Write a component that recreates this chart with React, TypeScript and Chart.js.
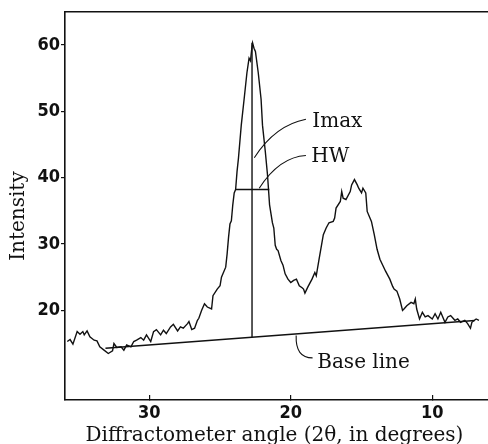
import { useEffect, useRef } from 'react';
import { Chart, registerables } from 'chart.js';

Chart.register(...registerables);

// Diffraction trace: angle (2θ, degrees) and intensity
const angles = [
  35.8, 35.6, 35.4, 35.1, 34.9, 34.7, 34.6, 34.4, 34.2, 33.9, 33.7, 33.5, 33.2, 32.9, 32.6, 32.5, 32.3, 32.0,
  31.8, 31.6, 31.3, 31.1, 30.9, 30.6, 30.4, 30.2, 29.9, 29.7, 29.5, 29.2, 29.0, 28.8, 28.5, 28.3, 28.0, 27.8,
  27.6, 27.3, 27.2, 27.0, 26.8, 26.6, 26.5, 26.3, 26.1, 25.9, 25.6, 25.5, 25.2, 25.0, 24.9, 24.6, 24.5, 24.4,
  24.3, 24.2, 24.1, 24.0, 23.9, 23.8, 23.7, 23.5, 23.3, 23.1, 22.95, 22.85, 22.75, 22.7, 22.6, 22.5, 22.3, 22.1,
  22.0, 21.8, 21.65, 21.6, 21.5, 21.3, 21.2, 21.1, 21.0, 20.9, 20.7, 20.55, 20.4, 20.2, 20.0, 19.8, 19.6, 19.4,
  19.2, 19.1, 19.0, 18.8, 18.5, 18.3, 18.2, 18.0, 17.7, 17.5, 17.3, 17.0, 16.9, 16.8, 16.5, 16.4, 16.3, 16.1,
  15.8, 15.7, 15.5, 15.3, 15.2, 15.0, 14.9, 14.7, 14.6, 14.3, 14.1, 13.9, 13.7, 13.5, 13.3, 13.0, 12.8, 12.7,
  12.5, 12.3, 12.1, 12.0, 11.8, 11.5, 11.3, 11.2, 11.1, 10.9, 10.7, 10.5, 10.3, 10.0, 9.8, 9.6, 9.4, 9.1,
  8.9, 8.7, 8.4, 8.2, 8.0, 7.7, 7.5, 7.3, 7.2, 6.9, 6.7,
];
const intensities = [
  15.3, 15.6, 14.9, 16.8, 16.4, 16.8, 16.3, 16.9, 16.0, 15.5, 15.4, 14.5, 14.0, 13.5, 13.9, 15.0, 14.4, 14.5,
  14.0, 14.8, 14.5, 15.3, 15.5, 15.9, 15.5, 16.3, 15.3, 16.8, 17.1, 16.3, 17.0, 16.5, 17.5, 17.9, 16.9, 17.5,
  17.3, 18.0, 18.3, 17.1, 17.3, 18.5, 18.8, 20.0, 21.0, 20.5, 20.2, 22.2, 23.2, 23.7, 25.0, 26.5, 28.5, 31.0,
  33.0, 33.5, 35.9, 37.7, 38.2, 40.9, 42.9, 47.9, 51.8, 55.8, 58.0, 57.6, 59.6, 60.3, 59.5, 59.0, 55.8, 51.8,
  47.9, 43.9, 40.5, 39.0, 35.9, 33.2, 32.4, 29.8, 29.2, 29.0, 27.5, 26.8, 25.5, 24.7, 24.2, 24.5, 24.7, 23.7,
  23.4, 23.2, 22.6, 23.5, 24.7, 25.7, 25.2, 27.7, 31.4, 32.4, 33.2, 33.4, 33.9, 35.4, 36.4, 37.9, 36.9, 36.7,
  37.9, 38.9, 39.7, 38.9, 38.4, 37.7, 38.4, 37.7, 34.9, 33.4, 31.4, 29.2, 27.7, 26.8, 25.9, 24.7, 23.6, 23.2,
  22.9, 21.7, 20.0, 20.2, 20.7, 21.2, 21.0, 21.7, 20.2, 18.7, 19.7, 19.0, 19.2, 18.7, 19.5, 18.7, 19.7, 18.2,
  19.0, 19.2, 18.5, 18.7, 18.2, 18.5, 18.0, 17.3, 18.2, 18.7, 18.5,
];

// Base line (two end points)
const baseLineAngles = [33.1, 7.0];
const baseLineIntensities = [14.3, 18.45];

// Imax vertical line and half-width horizontal line
const imaxAngle = 22.74;
const imaxIntensities = [15.95, 60.3];
const hwAngles = [23.9, 21.52];
const hwIntensity = 38.2;

// Axis ticks and titles
const xTicks = [30, 20, 10];
const yTicks = [20, 30, 40, 50, 60];
const xRange = [6.06, 35.96];
const yRange = [6.49, 64.98];
const xTitle = 'Diffractometer angle (2θ, in degrees)';
const yTitle = 'Intensity';

// Annotation labels (data coordinates) with curved leader lines
const annotationTexts = ['Imax', 'HW', 'Base line'];
const annotationAnchors = [
  [18.48, 47.65],
  [18.55, 42.42],
  [18.13, 11.26],
];
const annotationLeaders = [
  [[22.58, 43.0], [21.11, 47.9], [18.93, 48.8]],
  [[22.23, 38.39], [20.81, 43.09], [18.93, 43.32]],
  [[19.62, 16.2], [19.68, 12.83], [18.46, 12.83]],
];
const yTitleCenterValue = 34.2;

const INK = '#111111';
const SERIF = '"DejaVu Serif", "Liberation Serif", serif';
const TICK_FONT = { family: '"Liberation Sans Narrow", "DejaVu Sans Condensed", "Roboto", sans-serif', weight: 'bold' as const, size: 18 };

const overlayPlugin = {
  id: 'overlay',
  afterDraw(chart: any) {
    const { ctx, chartArea } = chart;
    const xs = chart.scales.x;
    const ys = chart.scales.y;
    ctx.save();
    // top frame line
    ctx.strokeStyle = INK;
    ctx.lineWidth = 1.6;
    ctx.beginPath();
    ctx.moveTo(chartArea.left, chartArea.top);
    ctx.lineTo(chartArea.right, chartArea.top);
    ctx.stroke();

    // annotations
    ctx.lineWidth = 1.1;
    ctx.fillStyle = INK;
    ctx.font = `20px ${SERIF}`;
    ctx.textAlign = 'left';
    ctx.textBaseline = 'alphabetic';
    annotationTexts.forEach((text, i) => {
      const [p0, p1, p2] = annotationLeaders[i];
      ctx.beginPath();
      ctx.moveTo(xs.getPixelForValue(p0[0]), ys.getPixelForValue(p0[1]));
      ctx.quadraticCurveTo(
        xs.getPixelForValue(p1[0]), ys.getPixelForValue(p1[1]),
        xs.getPixelForValue(p2[0]), ys.getPixelForValue(p2[1])
      );
      ctx.stroke();
      const [ax, ay] = annotationAnchors[i];
      ctx.fillText(text, xs.getPixelForValue(ax), ys.getPixelForValue(ay));
    });

    // x axis title
    ctx.textAlign = 'center';
    ctx.fillText(xTitle, (chartArea.left + chartArea.right) / 2 - 2, chart.height - 3);

    // y axis title
    ctx.translate(chartArea.left - 41, ys.getPixelForValue(yTitleCenterValue));
    ctx.rotate(-Math.PI / 2);
    ctx.fillText(yTitle, 0, 0);
    ctx.restore();
  },
};

export default function App() {
  const canvasRef = useRef<HTMLCanvasElement | null>(null);

  useEffect(() => {
    document.body.style.margin = '0';
    const canvas = canvasRef.current;
    if (!canvas) return;

    const curve = angles.map((a, i) => ({ x: a, y: intensities[i] }));
    const baseLine = baseLineAngles.map((a, i) => ({ x: a, y: baseLineIntensities[i] }));
    const imaxLine = imaxIntensities.map((v) => ({ x: imaxAngle, y: v }));
    const hwLine = hwAngles.map((a) => ({ x: a, y: hwIntensity }));

    const lineStyle = {
      borderColor: INK,
      pointRadius: 0,
      tension: 0,
      fill: false,
    };

    const chart = new Chart(canvas, {
      type: 'line',
      data: {
        datasets: [
          { ...lineStyle, data: curve, borderWidth: 1.4 },
          { ...lineStyle, data: baseLine, borderWidth: 1.5 },
          { ...lineStyle, data: imaxLine, borderWidth: 1.4 },
          { ...lineStyle, data: hwLine, borderWidth: 1.4 },
        ],
      },
      options: {
        responsive: false,
        animation: false,
        devicePixelRatio: 1,
        layout: { padding: { top: 9, right: 0, left: 0, bottom: 0 } },
        plugins: {
          legend: { display: false },
          tooltip: { enabled: false },
        },
        scales: {
          x: {
            type: 'linear',
            min: xRange[0],
            max: xRange[1],
            reverse: true,
            afterBuildTicks: (s: any) => {
              s.ticks = xTicks.map((v) => ({ value: v }));
            },
            afterFit: (s: any) => {
              s.height = 44;
            },
            grid: {
              display: true,
              drawOnChartArea: false,
              drawTicks: true,
              tickLength: -5,
              color: INK,
              lineWidth: 1.2,
            },
            border: { display: true, color: INK, width: 1.6 },
            ticks: { color: INK, font: TICK_FONT, padding: 8, maxRotation: 0 },
          },
          y: {
            type: 'linear',
            min: yRange[0],
            max: yRange[1],
            afterBuildTicks: (s: any) => {
              s.ticks = yTicks.map((v) => ({ value: v }));
            },
            afterFit: (s: any) => {
              s.width = 65;
            },
            grid: {
              display: true,
              drawOnChartArea: false,
              drawTicks: true,
              tickLength: 4,
              color: INK,
              lineWidth: 1.2,
            },
            border: { display: true, color: INK, width: 1.6 },
            ticks: { color: INK, font: TICK_FONT, padding: 1 },
          },
        },
      },
      plugins: [overlayPlugin],
    });

    return () => chart.destroy();
  }, []);

  return (
    <div style={{ width: 488, height: 444 }}>
      <canvas ref={canvasRef} width={488} height={444} style={{ display: 'block', width: 488, height: 444 }} />
    </div>
  );
}
